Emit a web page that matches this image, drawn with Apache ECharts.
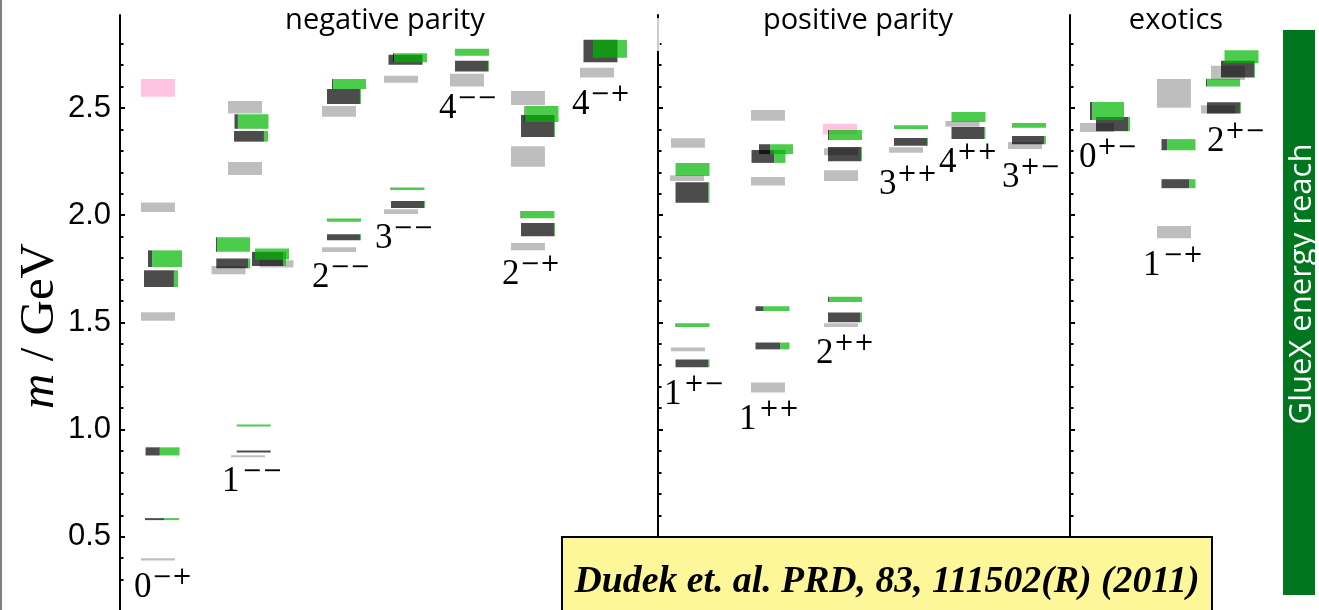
<!DOCTYPE html>
<html>
<head>
<meta charset="utf-8">
<script src="https://cdn.jsdelivr.net/npm/echarts@6/dist/echarts.min.js"></script>
<style>
  html, body { margin: 0; padding: 0; background: #fff; }
  #chart { width: 1319px; height: 610px; }
</style>
</head>
<body>
<div id="chart"></div>
<script>
// ---- Data ---------------------------------------------------------------
// Horizontal axis: J^PC columns laid out along a value axis (0..20).
// Experimental states (grey): [x, mass GeV, half-width GeV]
const expStates = [
  [0.655, 2.037, 0.022], [0.655, 1.527, 0.020], [0.655, 0.394, 0.005],
  [2.155, 2.504, 0.029], [2.155, 2.218, 0.030], [1.871, 1.744, 0.019],
  [2.698, 1.773, 0.017], [2.207, 0.875, 0.004],
  [3.776, 2.484, 0.025], [3.776, 1.839, 0.011],
  [4.845, 2.634, 0.016], [4.845, 2.017, 0.011],
  [5.983, 2.630, 0.030],
  [7.034, 2.547, 0.033], [7.034, 2.274, 0.048], [7.034, 1.853, 0.017],
  [8.224, 2.665, 0.023],
  [9.793, 2.337, 0.022], [9.776, 2.173, 0.013], [9.793, 1.374, 0.009],
  [11.172, 2.466, 0.025], [11.172, 2.158, 0.020], [11.172, 1.196, 0.023],
  [12.431, 2.296, 0.016], [12.431, 2.185, 0.025], [12.431, 1.487, 0.009],
  [13.552, 2.304, 0.013],
  [14.526, 2.426, 0.013],
  [15.603, 2.325, 0.016],
  [16.845, 2.409, 0.021],
  [18.172, 2.568, 0.067], [18.172, 1.921, 0.028],
  [19.103, 2.664, 0.033], [18.931, 2.494, 0.019]
];

// Pink states: [x, mass GeV, half-width GeV]
const pinkStates = [
  [0.655, 2.594, 0.041],
  [12.414, 2.402, 0.025]
];

// Lattice states: [x, mass GeV, half-width GeV, light-quark fraction (dark part, left)]
const latticeStates = [
  [0.776, 1.797, 0.039, 0.12], [0.707, 1.704, 0.039, 0.88],
  [0.733, 0.898, 0.019, 0.42], [0.724, 0.582, 0.004, 0.56],
  [2.267, 2.437, 0.034, 0.10], [2.259, 2.368, 0.025, 0.88],
  [1.948, 1.863, 0.034, 0.03], [1.953, 1.775, 0.023, 0.94],
  [2.621, 1.819, 0.026, 0.00], [2.569, 1.796, 0.033, 0.92],
  [2.305, 1.019, 0.004, 0.00], [2.305, 0.898, 0.004, 1.00],
  [3.948, 2.612, 0.023, 0.03], [3.862, 2.554, 0.035, 0.97],
  [3.862, 1.977, 0.008, 0.00], [3.862, 1.897, 0.014, 0.97],
  [5.000, 2.734, 0.021, 0.03], [4.922, 2.725, 0.023, 1.00],
  [4.957, 2.123, 0.006, 0.03], [4.966, 2.050, 0.016, 0.97],
  [6.069, 2.760, 0.016, 0.00], [6.069, 2.695, 0.025, 0.97],
  [7.267, 2.472, 0.037, 0.02], [7.207, 2.416, 0.051, 0.97],
  [7.198, 2.003, 0.017, 0.03], [7.207, 1.933, 0.031, 0.97],
  [8.448, 2.776, 0.041, 0.00], [8.284, 2.766, 0.052, 1.00],
  [9.871, 2.213, 0.030, 0.00], [9.871, 2.106, 0.048, 0.97],
  [9.871, 1.487, 0.009, 0.03], [9.871, 1.309, 0.018, 0.97],
  [11.310, 2.308, 0.023, 0.33], [11.181, 2.274, 0.030, 0.67],
  [11.250, 1.564, 0.011, 0.24], [11.250, 1.390, 0.016, 0.73],
  [12.500, 2.374, 0.023, 0.03], [12.500, 2.285, 0.033, 0.97],
  [12.500, 1.607, 0.012, 0.03], [12.500, 1.523, 0.023, 0.95],
  [13.638, 2.411, 0.009, 0.00], [13.638, 2.342, 0.018, 0.97],
  [14.629, 2.458, 0.023, 0.00], [14.629, 2.383, 0.028, 0.97],
  [15.672, 2.419, 0.011, 0.00], [15.672, 2.350, 0.019, 0.95],
  [17.017, 2.486, 0.042, 0.07], [17.121, 2.425, 0.033, 0.94],
  [18.250, 2.329, 0.026, 0.17], [18.250, 2.147, 0.021, 0.82],
  [19.336, 2.739, 0.030, 0.00], [19.276, 2.681, 0.039, 0.97],
  [19.017, 2.618, 0.018, 0.03], [19.034, 2.501, 0.026, 0.97]
];

// J^PC column labels: [x, mass GeV, J, PC]
const jpcLabels = [
  [0.241, 0.261, '0', '\u2212+'],
  [1.759, 0.758, '1', '\u2212\u2212'],
  [3.310, 1.709, '2', '\u2212\u2212'],
  [4.397, 1.889, '3', '\u2212\u2212'],
  [5.500, 2.498, '4', '\u2212\u2212'],
  [6.586, 1.721, '2', '\u2212+'],
  [7.793, 2.516, '4', '\u2212+'],
  [9.379, 1.161, '1', '+\u2212'],
  [10.672, 1.044, '1', '++'],
  [12.000, 1.352, '2', '++'],
  [13.086, 2.141, '3', '++'],
  [14.121, 2.243, '4', '++'],
  [15.207, 2.176, '3', '+\u2212'],
  [16.534, 2.270, '0', '+\u2212'],
  [17.638, 1.766, '1', '\u2212+'],
  [18.741, 2.341, '2', '+\u2212']
];

const sectionTitles = ['negative parity', 'positive parity', 'exotics'];
const yMajorTicks = [0.5, 1.0, 1.5, 2.0, 2.5];
const yMinorTicks = [0.3, 0.4, 0.6, 0.7, 0.8, 0.9, 1.1, 1.2, 1.3, 1.4, 1.6, 1.7,
                     1.8, 1.9, 2.1, 2.2, 2.3, 2.4, 2.6, 2.7, 2.8];
const citation = 'Dudek et. al. PRD, 83, 111502(R) (2011)';
const reachText = 'GlueX energy reach';

// ---- Styling ------------------------------------------------------------
const Y_MIN = 0.158, Y_MAX = 2.934;
const BOX_W = 0.586;        // box width in x-axis units
const MIN_H = 2;            // thinnest drawn level, px
const C_EXP = 'rgba(0,0,0,0.255)';
const C_DARK = 'rgba(0,0,0,0.70)';
const C_GREEN = 'rgba(0,182,0,0.70)';
const C_PINK = 'rgba(255,105,180,0.40)';
const TITLE_FONT = '29px "Open Sans"';

const chart = echarts.init(document.getElementById('chart'), null, { renderer: 'canvas' });

function levelRect(api, x0, x1, m, e) {
  const a = api.coord([x0, m + e]);
  const b = api.coord([x1, m - e]);
  const h = Math.max(b[1] - a[1], MIN_H);
  const yc = (a[1] + b[1]) / 2;
  return { x: a[0], y: yc - h / 2, width: b[0] - a[0], height: h };
}

function plainLevels(color) {
  return function (params, api) {
    const x = api.value(0), m = api.value(1), e = api.value(2);
    return { type: 'rect', shape: levelRect(api, x - BOX_W / 2, x + BOX_W / 2, m, e),
             style: { fill: color } };
  };
}

function splitLevels(part) {
  return function (params, api) {
    const x = api.value(0), m = api.value(1), e = api.value(2), f = api.value(3);
    const xl = x - BOX_W / 2, xs = xl + f * BOX_W, xr = x + BOX_W / 2;
    if (part === 'dark') {
      if (f <= 0) return null;
      return { type: 'rect', shape: levelRect(api, xl, xs, m, e), style: { fill: C_DARK } };
    }
    if (f >= 1) return null;
    return { type: 'rect', shape: levelRect(api, xs, xr, m, e), style: { fill: C_GREEN } };
  };
}

function jpcRender(params, api) {
  const lab = jpcLabels[params.dataIndex];
  const p = api.coord([lab[0], lab[1]]);
  return {
    type: 'group',
    children: [
      { type: 'text', x: p[0], y: p[1],
        style: { text: lab[2], font: '35px "Liberation Serif"', fill: '#000',
                 align: 'left', verticalAlign: 'middle' } },
      { type: 'text', x: p[0] + (lab[2] === '1' ? 20 : 18), y: p[1] - 10,
        style: { text: lab[3], font: '24px "DejaVu Serif"', fill: '#000',
                 align: 'left', verticalAlign: 'middle' } }
    ]
  };
}

function makeYAxis(offset, ticks, tickLen, withLabels, withLine) {
  return {
    type: 'value', position: 'left', offset: offset, min: Y_MIN, max: Y_MAX,
    axisLine: { show: withLine, onZero: false, lineStyle: { color: '#000', width: 2 } },
    axisTick: { show: true, inside: true, length: tickLen, customValues: ticks,
                lineStyle: { color: '#000', width: 2 } },
    axisLabel: withLabels
      ? { show: true, customValues: ticks, margin: 9, color: '#000', fontSize: 31,
          fontFamily: '"Liberation Sans", Arial, sans-serif',
          formatter: v => v.toFixed(1) }
      : { show: false },
    splitLine: { show: false }
  };
}

// measure citation width to condense it like a narrow bold italic face
const ctx = document.createElement('canvas').getContext('2d');
ctx.font = 'italic bold 37px "Liberation Serif"';
const citeScale = 625 / ctx.measureText(citation).width;

const option = {
  animation: false,
  backgroundColor: '#fff',
  grid: { left: 120, top: 15, width: 1160, height: 595, containLabel: false },
  xAxis: { type: 'value', min: 0, max: 20, show: false },
  yAxis: [
    makeYAxis(0, yMajorTicks, 5, true, true),
    makeYAxis(0, yMinorTicks, 3.5, false, false),
    makeYAxis(-538, yMajorTicks, 5, false, true),
    makeYAxis(-538, yMinorTicks, 3.5, false, false),
    makeYAxis(-950, yMajorTicks, 5, false, true),
    makeYAxis(-950, yMinorTicks, 3.5, false, false)
  ],
  series: [
    { type: 'custom', name: 'experiment', renderItem: plainLevels(C_EXP), data: expStates, z: 2, silent: true },
    { type: 'custom', name: 'pink', renderItem: plainLevels(C_PINK), data: pinkStates, z: 2, silent: true },
    { type: 'custom', name: 'lattice light', renderItem: splitLevels('dark'), data: latticeStates, z: 3, silent: true },
    { type: 'custom', name: 'lattice strange', renderItem: splitLevels('green'), data: latticeStates, z: 4, silent: true },
    { type: 'custom', name: 'JPC', renderItem: jpcRender, data: jpcLabels.map(l => [l[0], l[1]]), z: 5, silent: true }
  ],
  graphic: [
    // frame edge on the left
    { type: 'rect', shape: { x: 0, y: 0, width: 2, height: 610 }, style: { fill: '#808080' }, z: 10 },
    // faint top segment of the middle axis
    { type: 'rect', shape: { x: 656, y: 18, width: 4, height: 33 }, style: { fill: 'rgba(255,255,255,0.8)' }, z: 10 },
    // axis title
    { type: 'text', x: 40, y: 326, rotation: Math.PI / 2, z: 10,
      style: { text: '{i|m} / GeV', align: 'center', verticalAlign: 'middle', fill: '#000',
               font: '49px "Liberation Serif"',
               rich: { i: { font: 'italic 49px "Liberation Serif"', fill: '#000' } } } },
    // section titles
    { type: 'text', x: 385, y: 21, z: 10,
      style: { text: sectionTitles[0], font: TITLE_FONT, fill: '#000', align: 'center', verticalAlign: 'middle' } },
    { type: 'text', x: 858, y: 21, z: 10,
      style: { text: sectionTitles[1], font: TITLE_FONT, fill: '#000', align: 'center', verticalAlign: 'middle' } },
    { type: 'text', x: 1176, y: 21, z: 10,
      style: { text: sectionTitles[2], font: TITLE_FONT, fill: '#000', align: 'center', verticalAlign: 'middle' } },
    // energy reach bar
    { type: 'rect', shape: { x: 1283, y: 30, width: 32, height: 565 }, style: { fill: '#00761f' }, z: 10 },
    { type: 'text', x: 1302, y: 284, rotation: Math.PI / 2, z: 11,
      style: { text: reachText, font: '31px "Open Sans"', fill: '#fff', align: 'center', verticalAlign: 'middle' } },
    // citation box
    { type: 'rect', shape: { x: 562, y: 537, width: 650, height: 90 },
      style: { fill: '#fdf79a', stroke: '#000', lineWidth: 2 }, z: 20 },
    { type: 'text', x: 887, y: 582, scaleX: citeScale, z: 21,
      style: { text: citation, font: 'italic bold 37px "Liberation Serif"', fill: '#000',
               align: 'center', verticalAlign: 'middle' } }
  ]
};

chart.setOption(option);
</script>
</body>
</html>
